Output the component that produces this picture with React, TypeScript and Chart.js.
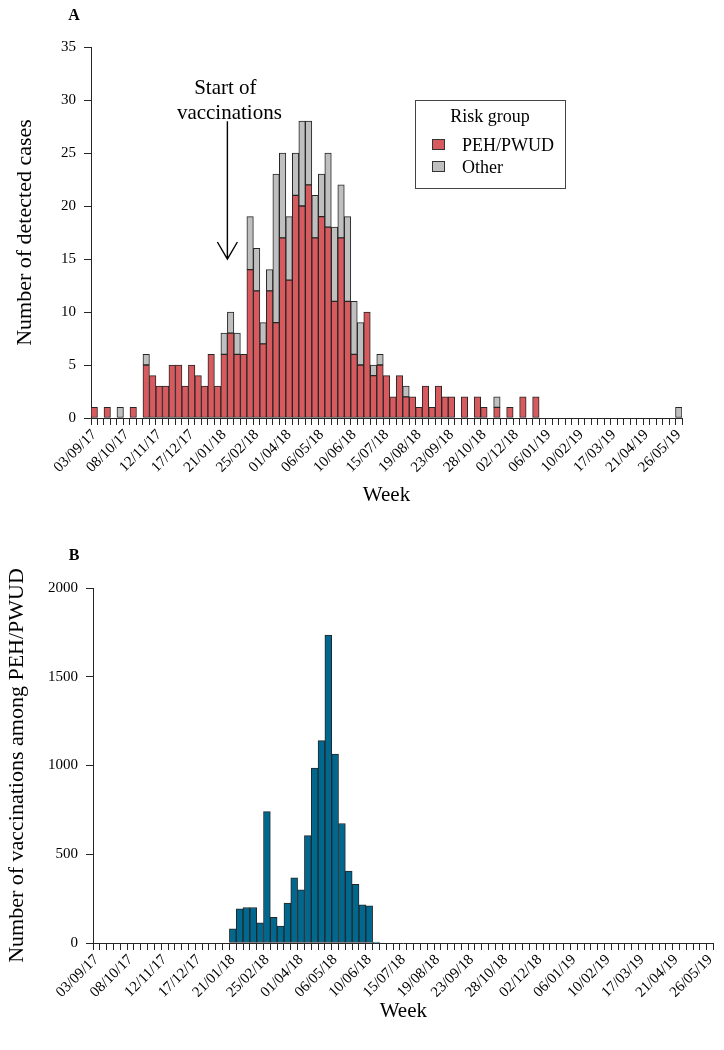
import React, { useEffect, useRef } from 'react';
import { Chart, registerables } from 'chart.js';

Chart.register(...registerables);

// ---------- Data ----------
const weeks = [
  '03/09/17', '10/09/17', '17/09/17', '24/09/17', '01/10/17', '08/10/17', '15/10/17', '22/10/17', '29/10/17', '05/11/17',
  '12/11/17', '19/11/17', '26/11/17', '03/12/17', '10/12/17', '17/12/17', '24/12/17', '31/12/17', '07/01/18', '14/01/18',
  '21/01/18', '28/01/18', '04/02/18', '11/02/18', '18/02/18', '25/02/18', '04/03/18', '11/03/18', '18/03/18', '25/03/18',
  '01/04/18', '08/04/18', '15/04/18', '22/04/18', '29/04/18', '06/05/18', '13/05/18', '20/05/18', '27/05/18', '03/06/18',
  '10/06/18', '17/06/18', '24/06/18', '01/07/18', '08/07/18', '15/07/18', '22/07/18', '29/07/18', '05/08/18', '12/08/18',
  '19/08/18', '26/08/18', '02/09/18', '09/09/18', '16/09/18', '23/09/18', '30/09/18', '07/10/18', '14/10/18', '21/10/18',
  '28/10/18', '04/11/18', '11/11/18', '18/11/18', '25/11/18', '02/12/18', '09/12/18', '16/12/18', '23/12/18', '30/12/18',
  '06/01/19', '13/01/19', '20/01/19', '27/01/19', '03/02/19', '10/02/19', '17/02/19', '24/02/19', '03/03/19', '10/03/19',
  '17/03/19', '24/03/19', '31/03/19', '07/04/19', '14/04/19', '21/04/19', '28/04/19', '05/05/19', '12/05/19', '19/05/19',
  '26/05/19',
];

const labelEvery = 5;

const pehCases = [
  1, 0, 1, 0, 0, 0, 1, 0, 5, 4,
  3, 3, 5, 5, 3, 5, 4, 3, 6, 3,
  6, 8, 6, 6, 14, 12, 7, 12, 9, 17,
  13, 21, 20, 22, 17, 19, 18, 11, 17, 11,
  6, 5, 10, 4, 5, 4, 2, 4, 2, 2,
  1, 3, 1, 3, 2, 2, 0, 2, 0, 2,
  1, 0, 1, 0, 1, 0, 2, 0, 2, 0,
  0, 0, 0, 0, 0, 0, 0, 0, 0, 0,
  0, 0, 0, 0, 0, 0, 0, 0, 0, 0,
  0,
];

const otherCases = [
  0, 0, 0, 0, 1, 0, 0, 0, 1, 0,
  0, 0, 0, 0, 0, 0, 0, 0, 0, 0,
  2, 2, 2, 0, 5, 4, 2, 2, 14, 8,
  6, 4, 8, 6, 4, 4, 7, 7, 5, 8,
  5, 4, 0, 1, 1, 0, 0, 0, 1, 0,
  0, 0, 0, 0, 0, 0, 0, 0, 0, 0,
  0, 0, 1, 0, 0, 0, 0, 0, 0, 0,
  0, 0, 0, 0, 0, 0, 0, 0, 0, 0,
  0, 0, 0, 0, 0, 0, 0, 0, 0, 0,
  1,
];

const vaccinations = [
  0, 0, 0, 0, 0, 0, 0, 0, 0, 0,
  0, 0, 0, 0, 0, 0, 0, 0, 0, 0,
  80, 192, 200, 200, 113, 740, 145, 95, 225, 367,
  300, 605, 985, 1140, 1735, 1065, 673, 405, 330, 215,
  210, 5, 0, 0, 0, 0, 0, 0, 0, 0,
  0, 0, 0, 0, 0, 0, 0, 0, 0, 0,
  0, 0, 0, 0, 0, 0, 0, 0, 0, 0,
  0, 0, 0, 0, 0, 0, 0, 0, 0, 0,
  0, 0, 0, 0, 0, 0, 0, 0, 0, 0,
  0,
];

const seriesNames = ['PEH/PWUD', 'Other'];
const legendTitle = 'Risk group';
const annotationLines = ['Start of', 'vaccinations'];
const annotationWeek = '21/01/18';

// ---------- Styles ----------
const FONT = "'Liberation Serif', 'Times New Roman', Times, serif";
const RED = '#D75A5E';
const GREY = '#BFBFBF';
const BLUE = '#00688F';
const EDGE = '#262626';
const AXIS = '#262626';

function panelLabel(id: string, text: string, x: number, y: number) {
  return {
    id,
    afterDraw(chart: any) {
      const ctx = chart.ctx;
      ctx.save();
      ctx.fillStyle = '#000';
      ctx.font = `bold 16px ${FONT}`;
      ctx.textAlign = 'center';
      ctx.textBaseline = 'alphabetic';
      ctx.fillText(text, x, y);
      ctx.restore();
    },
  };
}

const annotationPlugin = {
  id: 'startAnnotation',
  afterDraw(chart: any) {
    const { ctx } = chart;
    const xs = chart.scales.x;
    const ys = chart.scales.y;
    const i = weeks.indexOf(annotationWeek);
    const ax = (xs.getPixelForValue(i) + xs.getPixelForValue(i + 1)) / 2;
    const yTop = ys.getPixelForValue(28);
    const yTip = ys.getPixelForValue(15);
    ctx.save();
    ctx.fillStyle = '#000';
    ctx.font = `21px ${FONT}`;
    ctx.textAlign = 'center';
    ctx.textBaseline = 'alphabetic';
    ctx.fillText(annotationLines[0], ax - 2, yTop - 27);
    ctx.fillText(annotationLines[1], ax + 2, yTop - 2);
    ctx.strokeStyle = '#000';
    ctx.lineWidth = 1.4;
    ctx.beginPath();
    ctx.moveTo(ax, yTop);
    ctx.lineTo(ax, yTip);
    ctx.moveTo(ax - 10, yTip - 17);
    ctx.lineTo(ax, yTip);
    ctx.lineTo(ax + 10, yTip - 17);
    ctx.stroke();
    ctx.restore();
  },
};

const legendPlugin = {
  id: 'boxLegend',
  afterDraw(chart: any) {
    const { ctx } = chart;
    const bx = 415, by = 100, bw = 150, bh = 88;
    ctx.save();
    ctx.strokeStyle = '#444';
    ctx.lineWidth = 1;
    ctx.strokeRect(bx + 0.5, by + 0.5, bw, bh);
    ctx.fillStyle = '#000';
    ctx.font = `18px ${FONT}`;
    ctx.textAlign = 'center';
    ctx.textBaseline = 'alphabetic';
    ctx.fillText(legendTitle, bx + bw / 2, by + 22);
    ctx.textAlign = 'left';
    chart.data.datasets.forEach((ds: any, k: number) => {
      const rowY = by + 51 + k * 22;
      ctx.fillStyle = ds.backgroundColor;
      ctx.fillRect(bx + 17, rowY - 12, 13, 11);
      ctx.strokeStyle = '#333';
      ctx.strokeRect(bx + 17.5, rowY - 11.5, 12, 10);
      ctx.fillStyle = '#000';
      ctx.fillText(ds.label, bx + 47, rowY);
    });
    ctx.restore();
  },
};

function xScale(height: number, titleBottom: number) {
  return {
    offset: true,
    grid: {
      offset: true,
      drawOnChartArea: false,
      drawTicks: true,
      tickLength: 7,
      color: AXIS,
      lineWidth: 1,
    },
    border: { display: true, color: AXIS, width: 1 },
    ticks: {
      autoSkip: false,
      maxRotation: 45,
      minRotation: 45,
      padding: 1,
      color: '#000',
      font: { family: FONT, size: 15 },
      callback: (_v: any, i: number) => (i % labelEvery === 0 ? weeks[i] : ''),
    },
    title: {
      display: true,
      text: 'Week',
      color: '#000',
      font: { family: FONT, size: 21 },
      padding: { top: 0, bottom: titleBottom },
    },
    afterFit: (s: any) => {
      s.height = height;
    },
  };
}

function yScale(max: number, step: number, width: number, title: string, titleTop: number) {
  return {
    min: 0,
    max,
    ticks: {
      stepSize: step,
      padding: 8,
      color: '#000',
      font: { family: FONT, size: 15 },
      callback: (v: any) => String(v),
    },
    grid: { drawOnChartArea: false, tickLength: 7, color: AXIS, lineWidth: 1 },
    border: { display: true, color: AXIS, width: 1 },
    title: {
      display: true,
      text: title,
      color: '#000',
      font: { family: FONT, size: 22 },
      padding: { top: titleTop, bottom: 0 },
    },
    afterFit: (s: any) => {
      s.width = width;
    },
  };
}

const barStyle = {
  borderColor: EDGE,
  borderWidth: 1,
  borderSkipped: false,
  barPercentage: 1,
  categoryPercentage: 1,
};

export default function App() {
  const refA = useRef<HTMLCanvasElement>(null);
  const refB = useRef<HTMLCanvasElement>(null);

  useEffect(() => {
    document.body.style.margin = '0';
    const chartA = new Chart(refA.current as HTMLCanvasElement, {
      type: 'bar',
      data: {
        labels: weeks,
        datasets: [
          { label: seriesNames[0], data: pehCases, backgroundColor: RED, ...barStyle } as any,
          { label: seriesNames[1], data: otherCases, backgroundColor: GREY, ...barStyle } as any,
        ],
      },
      options: {
        responsive: false,
        animation: false,
        events: [],
        layout: { padding: { top: 47, right: 42, left: 0, bottom: 0 } },
        plugins: { legend: { display: false }, tooltip: { enabled: false }, title: { display: false } },
        scales: {
          x: { ...xScale(102, 12), stacked: true } as any,
          y: { ...yScale(35, 5, 91, 'Number of detected cases', 12), stacked: true } as any,
        },
      },
      plugins: [panelLabel('labelA', 'A', 74, 20), annotationPlugin, legendPlugin],
    });

    const chartB = new Chart(refB.current as HTMLCanvasElement, {
      type: 'bar',
      data: {
        labels: weeks,
        datasets: [
          { label: 'Vaccinations among PEH/PWUD', data: vaccinations, backgroundColor: BLUE, ...barStyle } as any,
        ],
      },
      options: {
        responsive: false,
        animation: false,
        events: [],
        layout: { padding: { top: 68, right: 10, left: 0, bottom: 0 } },
        plugins: { legend: { display: false }, tooltip: { enabled: false }, title: { display: false } },
        scales: {
          x: xScale(107, 26) as any,
          y: yScale(2000, 500, 93, 'Number of vaccinations among PEH/PWUD', 4) as any,
        },
      },
      plugins: [panelLabel('labelB', 'B', 74, 40)],
    });

    return () => {
      chartA.destroy();
      chartB.destroy();
    };
  }, []);

  return (
    <div style={{ position: 'relative', width: 724, height: 1050, background: '#fff' }}>
      <canvas ref={refA} width={724} height={520} style={{ position: 'absolute', left: 0, top: 0, width: 724, height: 520 }} />
      <canvas ref={refB} width={724} height={530} style={{ position: 'absolute', left: 0, top: 520, width: 724, height: 530 }} />
    </div>
  );
}
